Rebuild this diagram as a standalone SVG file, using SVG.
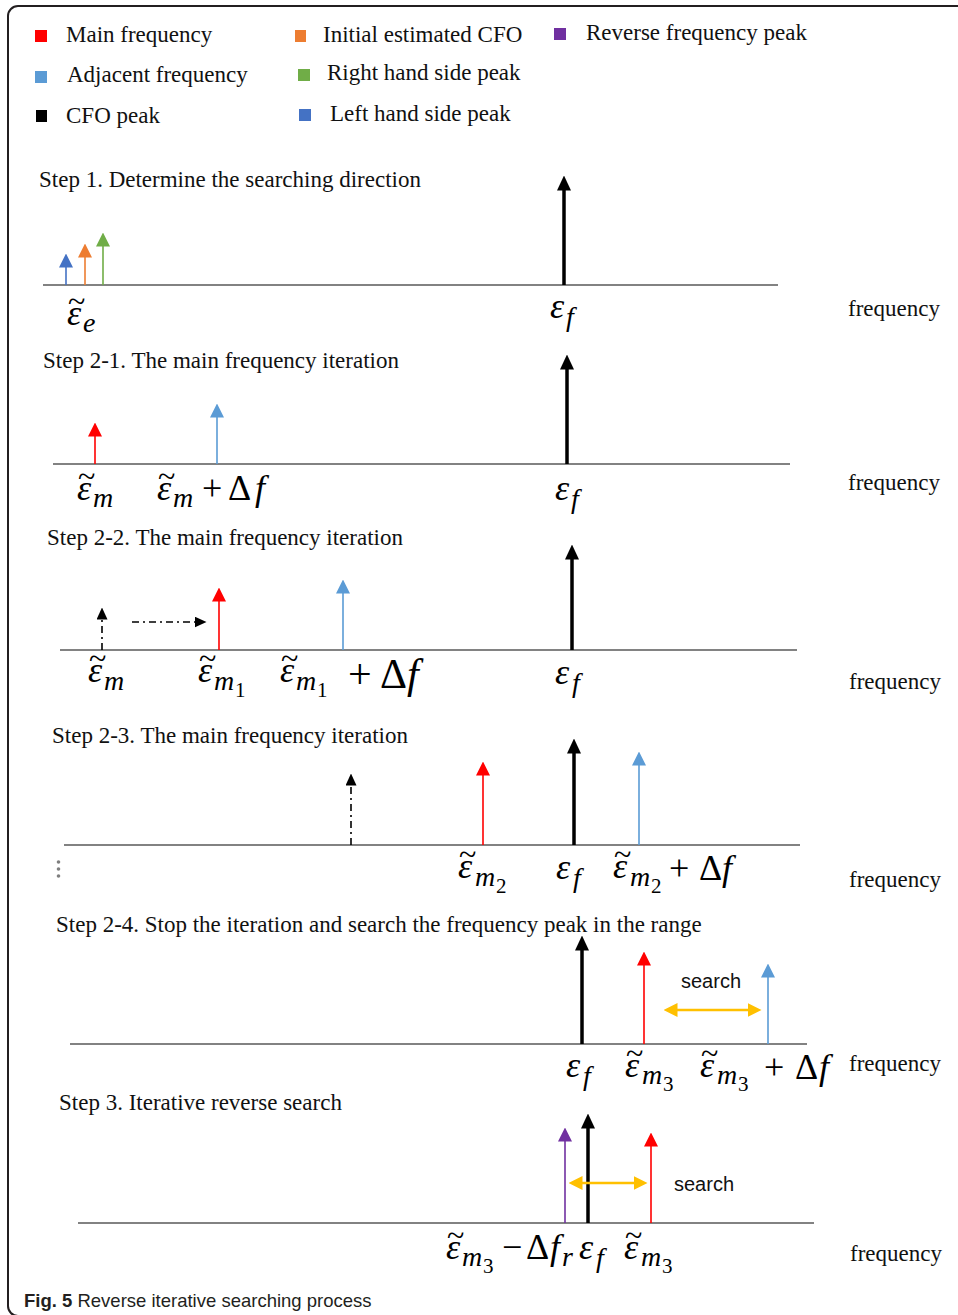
<svg xmlns="http://www.w3.org/2000/svg" width="958" height="1315" viewBox="0 0 958 1315">
<style>
.t{font-family:"Liberation Serif",serif;font-size:23px;fill:#111}
.ax{stroke:#595959;stroke-width:1.6}
.m{font-family:"Liberation Serif",serif;font-style:italic;font-size:36px;fill:#000}
.s{font-size:28px}
.n{font-style:normal;font-size:21px}
.u{font-style:normal}
.tl{font-style:normal;font-size:32px}
.srch{font-family:"Liberation Sans",sans-serif;font-size:20px;fill:#111}
.k{stroke:#000;stroke-width:3.5;fill:none}
.p{stroke-width:1.6;fill:none}
.dd{stroke:#000;stroke-width:1.6;stroke-dasharray:7 4 2 4;fill:none}
.y{stroke:#FFC000;stroke-width:2.5;fill:none}
.cap{font-family:"Liberation Sans",sans-serif;font-size:18.5px;fill:#231f20}
</style>
<defs>
<marker id="hk" viewBox="0 0 15 14" refX="0.5" refY="7" markerWidth="15" markerHeight="14" markerUnits="userSpaceOnUse" orient="auto"><path d="M0,0 L15,7 L0,14 z" fill="#000"/></marker>
<marker id="hks" viewBox="0 0 12 11" refX="0.5" refY="5.5" markerWidth="12" markerHeight="11" markerUnits="userSpaceOnUse" orient="auto"><path d="M0,0 L12,5.5 L0,11 z" fill="#000"/></marker>
<marker id="hr" viewBox="0 0 14 14" refX="0.5" refY="7" markerWidth="14" markerHeight="14" markerUnits="userSpaceOnUse" orient="auto"><path d="M0,0 L14,7 L0,14 z" fill="#FF0000"/></marker>
<marker id="hb" viewBox="0 0 14 14" refX="0.5" refY="7" markerWidth="14" markerHeight="14" markerUnits="userSpaceOnUse" orient="auto"><path d="M0,0 L14,7 L0,14 z" fill="#5B9BD5"/></marker>
<marker id="hbl" viewBox="0 0 14 14" refX="0.5" refY="7" markerWidth="14" markerHeight="14" markerUnits="userSpaceOnUse" orient="auto"><path d="M0,0 L14,7 L0,14 z" fill="#4472C4"/></marker>
<marker id="ho" viewBox="0 0 14 14" refX="0.5" refY="7" markerWidth="14" markerHeight="14" markerUnits="userSpaceOnUse" orient="auto"><path d="M0,0 L14,7 L0,14 z" fill="#ED7D31"/></marker>
<marker id="hg" viewBox="0 0 14 14" refX="0.5" refY="7" markerWidth="14" markerHeight="14" markerUnits="userSpaceOnUse" orient="auto"><path d="M0,0 L14,7 L0,14 z" fill="#70AD47"/></marker>
<marker id="hp" viewBox="0 0 14 14" refX="0.5" refY="7" markerWidth="14" markerHeight="14" markerUnits="userSpaceOnUse" orient="auto"><path d="M0,0 L14,7 L0,14 z" fill="#7030A0"/></marker>
<marker id="hy" viewBox="0 0 14 14" refX="0.5" refY="7" markerWidth="14" markerHeight="14" markerUnits="userSpaceOnUse" orient="auto-start-reverse"><path d="M0,0 L14,7 L0,14 z" fill="#FFC000"/></marker>
</defs>
<rect x="8" y="6" width="990" height="1310" rx="10" fill="#fff" stroke="#231f20" stroke-width="2"/>

<g id="legend">
<rect x="35" y="30" width="12" height="12" fill="#FF0000"/><text class="t" x="66" y="42">Main frequency</text>
<rect x="295" y="30" width="11" height="12" fill="#ED7D31"/><text class="t" x="323" y="42">Initial estimated CFO</text>
<rect x="554" y="28" width="12" height="12" fill="#7030A0"/><text class="t" x="586" y="40">Reverse frequency peak</text>
<rect x="35" y="71" width="12" height="12" fill="#5B9BD5"/><text class="t" x="67" y="82">Adjacent frequency</text>
<rect x="298" y="69" width="12" height="12" fill="#70AD47"/><text class="t" x="327" y="80">Right hand side peak</text>
<rect x="36" y="110" width="11" height="12" fill="#000"/><text class="t" x="66" y="123">CFO peak</text>
<rect x="299" y="109" width="12" height="12" fill="#4472C4"/><text class="t" x="330" y="121">Left hand side peak</text>
</g>

<g id="step1">
<text class="t" x="39" y="187">Step 1. Determine the searching direction</text>
<line class="ax" x1="43" y1="285" x2="778" y2="285"/>
<line class="p" stroke="#4472C4" x1="66" y1="285" x2="66" y2="267" marker-end="url(#hbl)"/>
<line class="p" stroke="#ED7D31" x1="85" y1="285" x2="85" y2="257" marker-end="url(#ho)"/>
<line class="p" stroke="#70AD47" x1="103" y1="285" x2="103" y2="246" marker-end="url(#hg)"/>
<line class="k" x1="564" y1="285" x2="564" y2="190" marker-end="url(#hk)"/>
<text class="m" x="67" y="325">ε<tspan class="s" x="83" y="332">e</tspan><tspan class="tl" x="68" y="312">~</tspan></text>
<text class="m" x="550" y="318">ε<tspan class="s" x="566" y="326">f</tspan></text>
<text class="t" x="848" y="316">frequency</text>
</g>

<g id="step2-1">
<text class="t" x="43" y="368">Step 2-1. The main frequency iteration</text>
<line class="ax" x1="53" y1="464" x2="790" y2="464"/>
<line class="p" stroke="#FF0000" x1="95" y1="464" x2="95" y2="436" marker-end="url(#hr)"/>
<line class="p" stroke="#5B9BD5" x1="217" y1="464" x2="217" y2="417" marker-end="url(#hb)"/>
<line class="k" x1="567" y1="464" x2="567" y2="369" marker-end="url(#hk)"/>
<text class="m" x="77" y="500">ε<tspan class="s" x="93" y="507">m</tspan><tspan class="tl" x="78" y="487">~</tspan></text>
<text class="m" x="157" y="500">ε<tspan class="s" x="173" y="507">m</tspan><tspan class="u" x="202" y="500">+</tspan><tspan class="u" x="228" y="500">Δ</tspan><tspan x="255" y="500">f</tspan><tspan class="tl" x="158" y="487">~</tspan></text>
<text class="m" x="555" y="500">ε<tspan class="s" x="571" y="508">f</tspan></text>
<text class="t" x="848" y="490">frequency</text>
</g>

<g id="step2-2">
<text class="t" x="47" y="545">Step 2-2. The main frequency iteration</text>
<line class="ax" x1="60" y1="650" x2="797" y2="650"/>
<line class="dd" x1="102" y1="650" x2="102" y2="619" marker-end="url(#hks)"/>
<line class="dd" x1="132" y1="622" x2="195" y2="622" marker-end="url(#hks)"/>
<line class="p" stroke="#FF0000" x1="219" y1="650" x2="219" y2="601" marker-end="url(#hr)"/>
<line class="p" stroke="#5B9BD5" x1="343" y1="650" x2="343" y2="593" marker-end="url(#hb)"/>
<line class="k" x1="572" y1="650" x2="572" y2="559" marker-end="url(#hk)"/>
<text class="m" x="88" y="682">ε<tspan class="s" x="104" y="690">m</tspan><tspan class="tl" x="89" y="669">~</tspan></text>
<text class="m" x="198" y="682">ε<tspan class="s" x="214" y="690">m</tspan><tspan class="n" x="235" y="697">1</tspan><tspan class="tl" x="199" y="669">~</tspan></text>
<text class="m" x="280" y="682">ε<tspan class="s" x="296" y="690">m</tspan><tspan class="n" x="317" y="697">1</tspan><tspan class="u" style="font-size:42px" x="348" y="688">+</tspan><tspan class="u" style="font-size:42px" x="380" y="688">Δ</tspan><tspan style="font-size:42px" x="407" y="688">f</tspan><tspan class="tl" x="281" y="669">~</tspan></text>
<text class="m" x="555" y="684">ε<tspan class="s" x="572" y="692">f</tspan></text>
<text class="t" x="849" y="689">frequency</text>
</g>

<g id="step2-3">
<text class="t" x="52" y="743">Step 2-3. The main frequency iteration</text>
<line class="ax" x1="64" y1="845" x2="800" y2="845"/>
<circle cx="58.5" cy="862" r="1.8" fill="#7f7f7f"/>
<circle cx="58.5" cy="869" r="1.8" fill="#7f7f7f"/>
<circle cx="58.5" cy="876" r="1.8" fill="#7f7f7f"/>
<line class="dd" x1="351" y1="845" x2="351" y2="785" marker-end="url(#hks)"/>
<line class="p" stroke="#FF0000" x1="483" y1="845" x2="483" y2="775" marker-end="url(#hr)"/>
<line class="k" x1="574" y1="845" x2="574" y2="753" marker-end="url(#hk)"/>
<line class="p" stroke="#5B9BD5" x1="639" y1="845" x2="639" y2="765" marker-end="url(#hb)"/>
<text class="m" x="458" y="878">ε<tspan class="s" x="475" y="886">m</tspan><tspan class="n" x="496" y="893">2</tspan><tspan class="tl" x="459" y="865">~</tspan></text>
<text class="m" x="556" y="879">ε<tspan class="s" x="573" y="887">f</tspan></text>
<text class="m" x="613" y="878">ε<tspan class="s" x="630" y="886">m</tspan><tspan class="n" x="651" y="893">2</tspan><tspan class="u" x="669" y="880">+</tspan><tspan class="u" x="699" y="880">Δ</tspan><tspan x="722" y="880">f</tspan><tspan class="tl" x="614" y="865">~</tspan></text>
<text class="t" x="849" y="887">frequency</text>
</g>

<g id="step2-4">
<text class="t" x="56" y="932">Step 2-4. Stop the iteration and search the frequency peak in the range</text>
<line class="ax" x1="70" y1="1044" x2="807" y2="1044"/>
<line class="k" x1="582" y1="1044" x2="582" y2="950" marker-end="url(#hk)"/>
<line class="p" stroke="#FF0000" x1="644" y1="1044" x2="644" y2="965" marker-end="url(#hr)"/>
<line class="p" stroke="#5B9BD5" x1="768" y1="1044" x2="768" y2="977" marker-end="url(#hb)"/>
<line class="y" x1="677" y1="1010" x2="748" y2="1010" marker-start="url(#hy)" marker-end="url(#hy)"/>
<text class="srch" x="681" y="988">search</text>
<text class="m" x="566" y="1077">ε<tspan class="s" x="583" y="1085">f</tspan></text>
<text class="m" x="625" y="1077">ε<tspan class="s" x="642" y="1084">m</tspan><tspan class="n" x="663" y="1091">3</tspan><tspan class="tl" x="626" y="1064">~</tspan></text>
<text class="m" x="700" y="1077">ε<tspan class="s" x="717" y="1084">m</tspan><tspan class="n" x="738" y="1091">3</tspan><tspan class="u" x="764" y="1079">+</tspan><tspan class="u" x="795" y="1079">Δ</tspan><tspan x="819" y="1079">f</tspan><tspan class="tl" x="701" y="1064">~</tspan></text>
<text class="t" x="849" y="1071">frequency</text>
</g>

<g id="step3">
<text class="t" x="59" y="1110">Step 3. Iterative reverse search</text>
<line class="ax" x1="78" y1="1223" x2="814" y2="1223"/>
<line class="p" stroke="#7030A0" x1="565" y1="1223" x2="565" y2="1141" marker-end="url(#hp)"/>
<line class="k" x1="588" y1="1223" x2="588" y2="1128" marker-end="url(#hk)"/>
<line class="p" stroke="#FF0000" x1="651" y1="1223" x2="651" y2="1146" marker-end="url(#hr)"/>
<line class="y" x1="582" y1="1183" x2="634" y2="1183" marker-start="url(#hy)" marker-end="url(#hy)"/>
<text class="srch" x="674" y="1191">search</text>
<text class="m" x="446" y="1259">ε<tspan class="s" x="462" y="1266">m</tspan><tspan class="n" x="483" y="1273">3</tspan><tspan class="u" x="502" y="1259">−</tspan><tspan class="u" x="526" y="1259">Δ</tspan><tspan x="550" y="1259">f</tspan><tspan class="s" x="562" y="1266">r</tspan><tspan class="tl" x="447" y="1246">~</tspan></text>
<text class="m" x="579" y="1259">ε<tspan class="s" x="596" y="1267">f</tspan></text>
<text class="m" x="624" y="1259">ε<tspan class="s" x="641" y="1266">m</tspan><tspan class="n" x="662" y="1273">3</tspan><tspan class="tl" x="625" y="1246">~</tspan></text>
<text class="t" x="850" y="1261">frequency</text>
</g>

<text class="cap" x="24" y="1307"><tspan font-weight="bold">Fig. 5</tspan> Reverse iterative searching process</text>
</svg>
